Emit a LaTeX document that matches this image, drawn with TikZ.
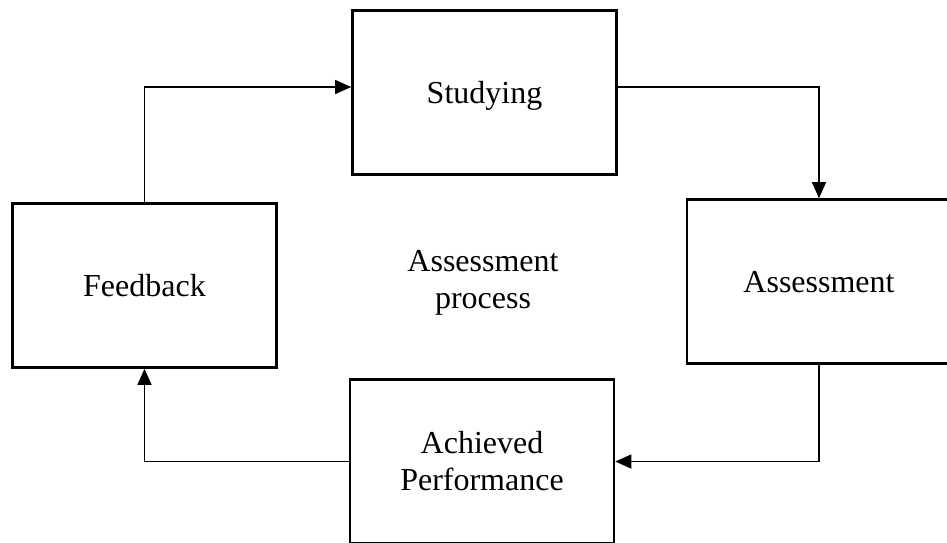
\documentclass[tikz,border=0pt]{standalone}
\usepackage{fontspec}
\setmainfont{Liberation Serif}
\usetikzlibrary{arrows.meta}
\begin{document}
\begin{tikzpicture}[x=1pt,y=-1pt,
  blockbox/.style={draw=black, line width=2.6pt, minimum width=264pt, minimum height=164pt, inner sep=0pt, align=center, font=\fontsize{32}{37}\selectfont},
  oneline/.style={text height=25pt, text depth=3pt},
  conn/.style={draw=black, line width=1.3pt, -{Triangle[length=16pt,width=14pt]}},
  plain/.style={align=center, font=\fontsize{32}{37}\selectfont}]
\useasboundingbox (0,0) rectangle (947,542);
\clip (0,0) rectangle (947,542);
\fill[white] (0,0) rectangle (947,542);
\node[blockbox, oneline] (studying) at (484.5,92.5) {Studying};
\node[blockbox, oneline] (assessment) at (819,281.5) {Assessment};
\node[blockbox, oneline] (feedback) at (144.5,285.5) {Feedback};
\node[blockbox] (achieved) at (482,461.5) {Achieved\\Performance};
\node[plain] (process) at (483,283) {Assessment\\process};
\draw[conn] (feedback.north) |- ([yshift=5.5pt]studying.west);
\draw[conn] ([yshift=5.5pt]studying.east) -| (assessment.north);
\draw[conn] (assessment.south) |- (achieved.east);
\draw[conn] (achieved.west) -| (feedback.south);
\end{tikzpicture}
\end{document}
